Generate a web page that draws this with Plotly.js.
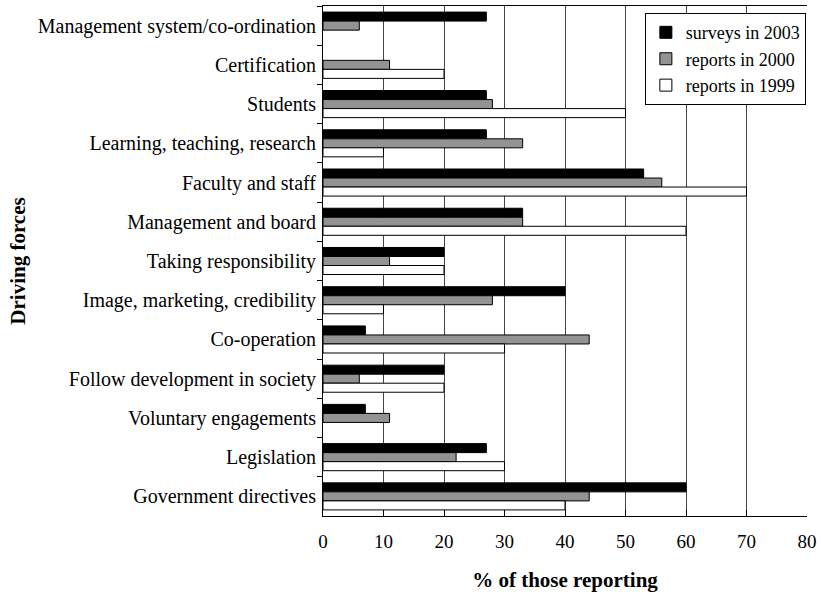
<!DOCTYPE html>
<html>
<head>
<meta charset="utf-8">
<script src="https://cdn.plot.ly/plotly-3.0.1.min.js"></script>
<style>html,body{margin:0;padding:0;background:#fff;}#chart{width:821px;height:592px;}</style>
</head>
<body>
<div id="chart"></div>
<script>
const categories = [
  "Management system/co-ordination",
  "Certification",
  "Students",
  "Learning, teaching, research",
  "Faculty and staff",
  "Management and board",
  "Taking responsibility",
  "Image, marketing, credibility",
  "Co-operation",
  "Follow development in society",
  "Voluntary engagements",
  "Legislation",
  "Government directives"
];
// null = no bar drawn in the reference
const surveys2003 = [27, null, 27, 27, 53, 33, 20, 40, 7, 20, 7, 27, 60];
const reports2000 = [6, 11, 28, 33, 56, 33, 11, 28, 44, 6, 11, 22, 44];
const reports1999 = [null, 20, 50, 10, 70, 60, 20, 10, 30, 20, null, 30, 40];
const seriesNames = ["surveys in 2003", "reports in 2000", "reports in 1999"];
const xTicks = [0, 10, 20, 30, 40, 50, 60, 70, 80];

const serif = "Liberation Serif, Times New Roman, serif";
const fills = ["#000000", "#939393", "#ffffff"];
const data = [surveys2003, reports2000, reports1999].map((vals, i) => ({
  type: "bar",
  orientation: "h",
  name: seriesNames[i],
  y: categories,
  x: vals,
  marker: {color: fills[i], line: {color: "#000", width: 1}}
}));

const layout = {
  width: 821, height: 592,
  margin: {l: 323, r: 14, t: 6, b: 76},
  paper_bgcolor: "#fff", plot_bgcolor: "#fff",
  barmode: "group",
  bargap: 0.31,
  bargroupgap: 0,
  font: {family: serif, size: 19, color: "#000"},
  showlegend: true,
  legend: {
    x: 0.665, y: 0.986, xanchor: "left", yanchor: "top",
    bgcolor: "#fff", bordercolor: "#000", borderwidth: 1,
    font: {family: serif, size: 18, color: "#000"},
    itemwidth: 30, tracegroupgap: 0
  },
  xaxis: {
    range: [0, 80],
    tickvals: xTicks,
    ticktext: xTicks.map(String),
    ticks: "inside", ticklen: 6, tickcolor: "#000",
    showline: true, linecolor: "#000", linewidth: 1, mirror: true,
    showgrid: true, gridcolor: "#444", gridwidth: 1,
    zeroline: false,
    tickfont: {family: serif, size: 19, color: "#000"},
    ticklabelstandoff: 8,
    title: {text: "<b>% of those reporting</b>", font: {family: serif, size: 21, color: "#000"}, standoff: 22}
  },
  yaxis: {
    autorange: "reversed",
    type: "category",
    ticks: "outside", ticklen: 5, tickcolor: "#000",
    tickson: "boundaries",
    showline: true, linecolor: "#000", linewidth: 1,
    showgrid: false, zeroline: false,
    tickfont: {family: serif, size: 20, color: "#000"},
    ticklabelstandoff: 2,
    title: {text: "<b>Driving forces</b>", font: {family: serif, size: 21, color: "#000"}, standoff: 6}
  }
};

Plotly.newPlot("chart", data, layout, {displayModeBar: false, staticPlot: true});
</script>
</body>
</html>
